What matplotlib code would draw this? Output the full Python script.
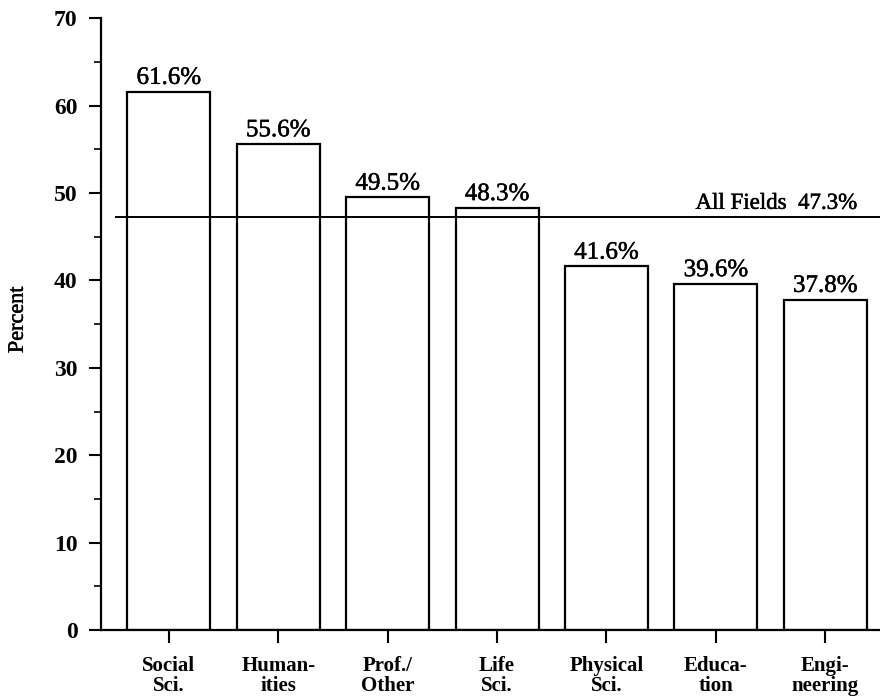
import matplotlib
matplotlib.use("Agg")
import matplotlib.pyplot as plt
import matplotlib.patheffects as pe
from matplotlib.ticker import MultipleLocator

# data
fields = ["Social\nSci.", "Human-\nities", "Prof./\nOther", "Life\nSci.",
          "Physical\nSci.", "Educa-\ntion", "Engi-\nneering"]
percents = [61.6, 55.6, 49.5, 48.3, 41.6, 39.6, 37.8]
all_fields = 47.3

plt.rcParams["font.family"] = ["Liberation Serif", "DejaVu Serif"]
heavy = [pe.withStroke(linewidth=0.35, foreground="black")]

fig = plt.figure(figsize=(8.8, 7.0), dpi=100)
ax = fig.add_axes([0.1148, 0.10, 0.8852, 0.874])

x = range(len(fields))
ax.bar(x, percents, width=0.76, color="white", edgecolor="black", linewidth=1.6)

for xi, v in zip(x, percents):
    ax.annotate(f"{v:.1f}%", (xi, v), xytext=(0, 2), textcoords="offset points",
                ha="center", va="bottom", fontsize=18, path_effects=heavy)

# reference line for all fields
ax.plot([-0.48, 6.5], [all_fields, all_fields], color="black", lw=1.4, clip_on=False)
ax.annotate(f"All Fields  {all_fields:.1f}%", (6.29, all_fields), xytext=(0, 2),
            textcoords="offset points", ha="right", va="bottom", fontsize=16.5,
            path_effects=heavy)

ax.set_xlim(-0.62, 6.5)
ax.set_ylim(0, 70)
ax.set_xticks(list(x))
ax.set_xticklabels(fields, fontsize=15, fontweight="bold", linespacing=1.0)
ax.yaxis.set_major_locator(MultipleLocator(10))
ax.yaxis.set_minor_locator(MultipleLocator(5))
for lab in ax.get_yticklabels():
    lab.set_fontsize(17)
    lab.set_fontweight("bold")

ax.tick_params(axis="y", which="major", direction="out", length=9, width=1.5, pad=8)
ax.tick_params(axis="y", which="minor", direction="out", length=5, width=1.2)
ax.tick_params(axis="x", which="major", direction="out", length=9, width=1.5, pad=10)

ax.set_ylabel("Percent", fontsize=16, path_effects=heavy)
ax.yaxis.set_label_coords(-0.094, 0.507)

ax.spines["top"].set_visible(False)
ax.spines["right"].set_visible(False)
ax.spines["left"].set_linewidth(1.6)
ax.spines["bottom"].set_linewidth(1.6)

fig.savefig("out.png", dpi=100)
